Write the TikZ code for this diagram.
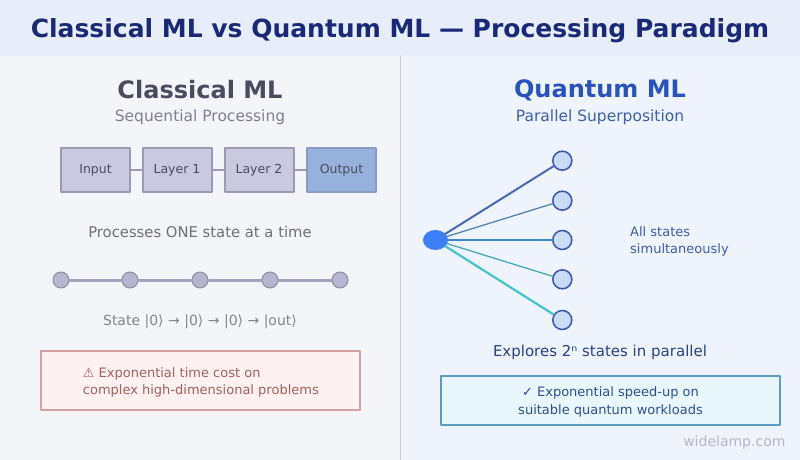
\documentclass[tikz,border=0pt]{standalone}
\usepackage{fontspec}
\setmainfont{DejaVu Sans}
\usetikzlibrary{positioning,shapes.geometric}
\definecolor{headbg}{HTML}{E8EDFA}
\definecolor{leftbg}{HTML}{F4F5F8}
\definecolor{rightbg}{HTML}{EEF3FC}
\definecolor{divcol}{HTML}{C6CAD8}
\definecolor{titlecol}{HTML}{1A2878}
\definecolor{clhead}{HTML}{4A4C5E}
\definecolor{clsub}{HTML}{7E8090}
\definecolor{qhead}{HTML}{2A52BE}
\definecolor{qsub}{HTML}{3E5EA8}
\definecolor{layfill}{HTML}{CAC9DF}
\definecolor{laydraw}{HTML}{9C9AB2}
\definecolor{outfill}{HTML}{96B2DC}
\definecolor{outdraw}{HTML}{8C9CC0}
\definecolor{chaincol}{HTML}{A2A2BC}
\definecolor{dotfill}{HTML}{B6B6CE}
\definecolor{dotdraw}{HTML}{8C8CA4}
\definecolor{warnfill}{HTML}{FDF1F1}
\definecolor{warndraw}{HTML}{D4A0A0}
\definecolor{warntext}{HTML}{A2605F}
\definecolor{srcfill}{HTML}{3D7EF2}
\definecolor{tgtfill}{HTML}{C9DBF8}
\definecolor{tgtdraw}{HTML}{3A56A8}
\definecolor{goodfill}{HTML}{E9F6FC}
\definecolor{gooddraw}{HTML}{5C9CBC}
\definecolor{goodtext}{HTML}{2E4F8E}
\definecolor{exptext}{HTML}{2B4284}
\definecolor{marktext}{HTML}{B4B8C6}
\definecolor{proctext}{HTML}{6E707A}
\definecolor{statetext}{HTML}{84868E}
\definecolor{lnA}{HTML}{4A68B8}
\definecolor{lnB}{HTML}{4C7EB0}
\definecolor{lnC}{HTML}{3E88CC}
\definecolor{lnD}{HTML}{3CA6B0}
\definecolor{lnE}{HTML}{44C4C6}
\newcommand{\fs}[1]{\fontsize{#1}{#1}\selectfont}
\begin{document}
\begin{tikzpicture}[x=1pt,y=-1pt,line join=round,line cap=round,
	layerbox/.style={draw=laydraw,fill=layfill,line width=2pt,minimum width=69pt,minimum height=44pt,inner sep=0pt,text height=7pt,text depth=0pt,font=\fs{12.5},text=clhead},
	dotnode/.style={circle,draw=dotdraw,fill=dotfill,line width=1pt,minimum size=16pt,inner sep=0pt},
	tgtnode/.style={circle,draw=tgtdraw,fill=tgtfill,line width=1.5pt,minimum size=19pt,inner sep=0pt},
	msgbox/.style={line width=1.6pt,minimum height=50pt,inner sep=0pt}]
	\useasboundingbox (0,0) rectangle (800,460);
	% backgrounds
	\fill[leftbg] (0,56) rectangle (400,460);
	\fill[rightbg] (400,56) rectangle (800,460);
	\fill[headbg] (0,0) rectangle (800,56);
	\draw[divcol,line width=1pt] (400,56)--(400,460);
	\node[font=\bfseries\fs{25},text=titlecol] (title) at (400,30.5) {Classical ML vs Quantum ML — Processing Paradigm};
	% classical side
	\node[font=\bfseries\fs{24},text=clhead] (clh) at (200,90) {Classical ML};
	\node[font=\fs{15.5},text=clsub] (cls) at (200,117.5) {Sequential Processing};
	\foreach \i/\x/\t in {1/95.5/Input,2/177/Layer 1,3/259/Layer 2} \node[layerbox] (b\i) at (\x,170) {\t};
	\node[layerbox,draw=outdraw,fill=outfill] (b4) at (341.5,170) {Output};
	\foreach \i/\j in {1/2,2/3,3/4} \draw[laydraw,line width=2pt] (b\i)--(b\j);
	\node[font=\fs{14.8},text=proctext] (proc) at (200,231.5) {Processes ONE state at a time};
	\foreach \i/\x in {1/61,2/130,3/200,4/270,5/340} \node[dotnode] (d\i) at (\x,280) {};
	\foreach \i/\j in {1/2,2/3,3/4,4/5} \draw[chaincol,line width=3pt] (d\i)--(d\j);
	\node[font=\fs{14},text=statetext] (state) at (200,321.5) {State |0⟩ → |0⟩ → |0⟩ → |out⟩};
	\node[msgbox,draw=warndraw,fill=warnfill,minimum width=319pt,minimum height=59pt] (warn) at (200.5,380.5) {};
	\node[anchor=west,align=left,inner sep=0pt,font=\fontsize{13}{17}\selectfont,text=warntext] (warntxt) at (82.7,382) {⚠ Exponential time cost on\\complex high-dimensional problems};
	% quantum side
	\node[font=\bfseries\fs{24},text=qhead] (qh) at (600,90) {Quantum ML};
	\node[font=\fs{15.5},text=qsub] (qs) at (600,117.5) {Parallel Superposition};
	\node[ellipse,fill=srcfill,minimum width=25pt,minimum height=20pt,inner sep=0pt] (src) at (435.5,240) {};
	\foreach \i/\y in {1/160.7,2/200.7,3/240,4/279.3,5/320} \node[tgtnode] (t\i) at (562.3,\y) {};
	\foreach \i/\c/\w in {1/lnA/2,2/lnB/1.2,3/lnC/2.6,4/lnD/1.2,5/lnE/2.2} \draw[\c,line width=\w pt] (src)--(t\i);
	\node[anchor=west,align=left,inner sep=0pt,font=\fontsize{13}{16.5}\selectfont,text=qsub] (allst) at (630,241.5) {All states\\simultaneously};
	\node[font=\fs{15},text=exptext] (expl) at (600,352) {Explores 2ⁿ states in parallel};
	\node[msgbox,draw=gooddraw,fill=goodfill,minimum width=339pt,minimum height=49pt] (good) at (610.5,400.5) {};
	\node[align=center,inner sep=0pt,font=\fontsize{13}{17.3}\selectfont,text=goodtext] (goodtxt) at (610.5,402) {✓ Exponential speed-up on\\suitable quantum workloads};
	\node[font=\fs{14},text=marktext,anchor=east] (mark) at (789,443) {widelamp.com};
\end{tikzpicture}
\end{document}
